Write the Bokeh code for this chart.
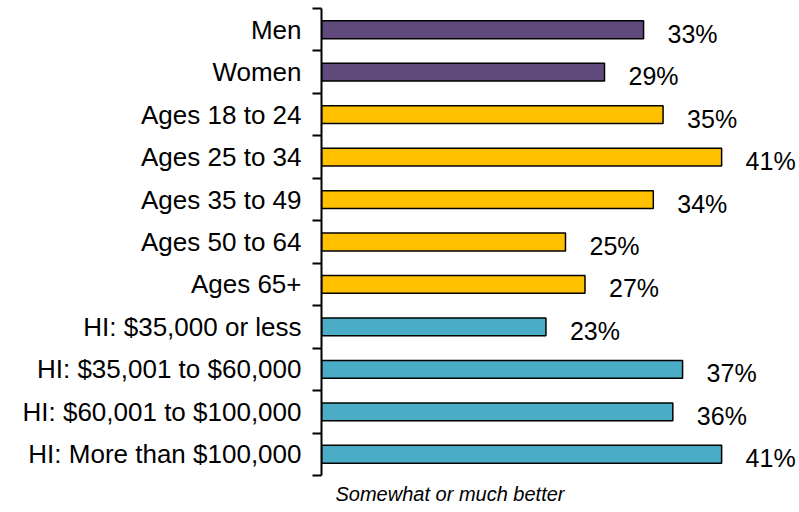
from bokeh.plotting import figure
from bokeh.models import Range1d, FixedTicker, Title
from bokeh.core.properties import value
from bokeh.embed import file_html
from bokeh.resources import INLINE

categories = [
    "Men", "Women",
    "Ages 18 to 24", "Ages 25 to 34", "Ages 35 to 49", "Ages 50 to 64", "Ages 65+",
    "HI: $35,000 or less", "HI: $35,001 to $60,000", "HI: $60,001 to $100,000",
    "HI: More than $100,000",
]
values = [33, 29, 35, 41, 34, 25, 27, 23, 37, 36, 41]
groups = ["Gender", "Gender", "Age", "Age", "Age", "Age", "Age",
          "Income", "Income", "Income", "Income"]
group_colors = {"Gender": "#604A7B", "Age": "#FFC000", "Income": "#4BACC6"}
axis_title = "Somewhat or much better"

n = len(categories)
ys = list(range(1, n + 1))
colors = [group_colors[g] for g in groups]
labels = [f"{v}%" for v in values]

FONT = "Liberation Sans"

p = figure(width=799, height=512, output_backend="svg", toolbar_location=None,
           x_range=Range1d(0, 48.98), y_range=Range1d(n + 0.5, 0.5),
           min_border_left=321, min_border_right=0, min_border_top=8,
           min_border_bottom=37)
p.outline_line_color = None
p.xgrid.visible = False
p.ygrid.visible = False
p.xaxis.visible = False
p.background_fill_color = "white"
p.border_fill_color = "white"

p.hbar(y=ys, left=0, right=values, height=0.42, fill_color=colors,
       line_color="black", line_width=1.5)

p.text(x=values, y=ys, text=labels, x_offset=24, y_offset=4,
       text_align="left", text_baseline="middle",
       text_font=value(FONT), text_font_size="25px", text_color="black")

yax = p.yaxis[0]
yax.ticker = FixedTicker(ticks=ys, minor_ticks=[y - 0.5 for y in ys] + [n + 0.5])
yax.major_label_overrides = {y: c for y, c in zip(ys, categories)}
yax.major_tick_out = 0
yax.major_tick_in = 0
yax.minor_tick_out = 9
yax.minor_tick_in = 0
yax.minor_tick_line_width = 2
yax.minor_tick_line_color = "black"
yax.axis_line_width = 2
yax.axis_line_color = "black"
yax.major_label_standoff = 11
yax.major_label_text_font = FONT
yax.major_label_text_font_size = "26px"
yax.major_label_text_color = "black"

p.add_layout(Title(text=axis_title, align="left", offset=14, standoff=10,
                   text_font=FONT, text_font_size="20px",
                   text_font_style="italic", text_color="black"), "below")

open("out.html", "w").write(file_html(p, INLINE))
